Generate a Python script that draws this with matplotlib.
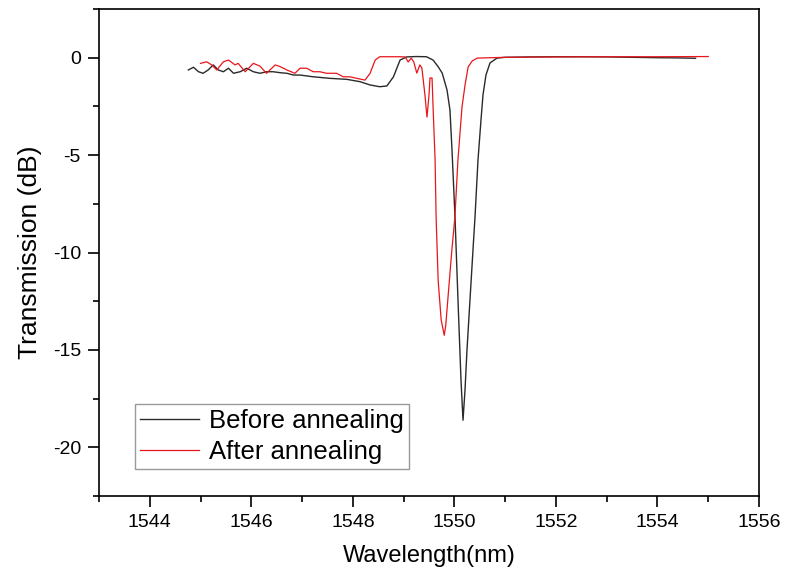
import matplotlib
matplotlib.use("Agg")
import matplotlib.pyplot as plt
from matplotlib.ticker import MultipleLocator

plt.rcParams['font.family'] = ['Liberation Sans', 'DejaVu Sans']
plt.rcParams['axes.unicode_minus'] = False

# before annealing
wl_before = [1544.76, 1544.86, 1544.96, 1545.05, 1545.15, 1545.25, 1545.35, 1545.45, 1545.55,
             1545.65, 1545.78, 1545.91, 1546.04, 1546.17, 1546.30, 1546.43, 1546.57, 1546.70,
             1546.83, 1546.96, 1547.22, 1547.55, 1547.88, 1548.14, 1548.34, 1548.53, 1548.67,
             1548.80, 1548.93, 1549.06, 1549.25, 1549.45, 1549.58, 1549.68, 1549.76, 1549.855,
             1549.913, 1549.953, 1550.012, 1550.071, 1550.130, 1550.170, 1550.209, 1550.248,
             1550.307, 1550.366, 1550.406, 1550.465, 1550.524, 1550.563, 1550.622, 1550.701,
             1550.839, 1551.0, 1551.5, 1552.0, 1552.5, 1553.0, 1553.5, 1554.0, 1554.4, 1554.75]
db_before = [-0.63, -0.49, -0.72, -0.80, -0.63, -0.37, -0.63, -0.72, -0.54,
             -0.80, -0.72, -0.54, -0.72, -0.80, -0.72, -0.72, -0.77, -0.80,
             -0.89, -0.89, -0.98, -1.06, -1.11, -1.23, -1.40, -1.49, -1.45,
             -0.98, -0.12, 0.04, 0.06, 0.05, -0.12, -0.46, -0.79, -1.66,
             -2.69, -4.74, -8.18, -12.44, -16.55, -18.61, -17.07, -15.01,
             -12.44, -9.88, -8.18, -5.25, -3.20, -1.92, -0.89, -0.27,
             -0.02, 0.02, 0.04, 0.05, 0.05, 0.04, 0.02, 0.0, -0.01, -0.03]

# after annealing
wl_after = [1545.00, 1545.12, 1545.22, 1545.32, 1545.45, 1545.55, 1545.68, 1545.74, 1545.88,
            1546.04, 1546.17, 1546.30, 1546.47, 1546.57, 1546.70, 1546.86, 1546.96, 1547.09,
            1547.22, 1547.35, 1547.48, 1547.68, 1547.81, 1547.94, 1548.08, 1548.24, 1548.34,
            1548.44, 1548.53, 1548.93, 1549.03, 1549.09, 1549.15, 1549.20, 1549.26, 1549.32,
            1549.36, 1549.42, 1549.46, 1549.50, 1549.52, 1549.56, 1549.58, 1549.62, 1549.64,
            1549.68, 1549.74, 1549.80, 1549.83, 1549.87, 1549.95, 1550.01, 1550.07, 1550.15,
            1550.21, 1550.27, 1550.35, 1550.45, 1551.0, 1552.0, 1553.0, 1554.0, 1555.0]
db_after = [-0.29, -0.21, -0.37, -0.63, -0.21, -0.12, -0.37, -0.29, -0.72,
            -0.29, -0.43, -0.80, -0.37, -0.46, -0.63, -0.80, -0.54, -0.54,
            -0.72, -0.72, -0.80, -0.80, -0.98, -0.98, -1.06, -1.15, -0.80,
            -0.12, 0.05, 0.05, 0.04, -0.22, -0.02, -0.22, -0.79, -0.37,
            -0.53, -1.92, -3.05, -1.92, -1.04, -1.04, -2.53, -5.25, -8.18,
            -11.42, -13.47, -14.25, -13.74, -12.44, -9.88, -8.18, -5.25, -2.53,
            -1.40, -0.48, -0.17, -0.02, 0.02, 0.04, 0.05, 0.05, 0.06]

fig = plt.figure(figsize=(7.85, 5.81), dpi=100)
ax = fig.add_axes([0.1261, 0.1463, 0.8408, 0.8382])

ax.plot(wl_before, db_before, color='#2a2a2a', lw=1.0, label='Before annealing')
ax.plot(wl_after, db_after, color='#e8161b', lw=0.9, label='After annealing')

ax.set_xlim(1543, 1556)
ax.set_ylim(-22.5, 2.5)
ax.xaxis.set_major_locator(MultipleLocator(2))
ax.xaxis.set_minor_locator(MultipleLocator(1))
ax.yaxis.set_major_locator(MultipleLocator(5))
ax.yaxis.set_minor_locator(MultipleLocator(2.5))

for s in ax.spines.values():
    s.set_linewidth(1.2)
ax.tick_params(which='major', direction='out', length=8, width=1.2, labelsize=14, pad=5)
ax.tick_params(which='minor', direction='out', length=4.5, width=1.2)
ax.tick_params(top=False, right=False, which='both')

ax.set_xlabel('Wavelength(nm)', fontsize=17, labelpad=10)
ax.set_ylabel('Transmission (dB)', fontsize=19, labelpad=8)

leg = ax.legend(loc='lower left', bbox_to_anchor=(0.0545, 0.0554), borderaxespad=0,
                fontsize=18.5, frameon=True, fancybox=False, edgecolor='#808080',
                handlelength=2.3, handletextpad=0.4, labelspacing=0.25, borderpad=0.2)
leg.get_frame().set_linewidth(1.0)

fig.savefig('out.png', dpi=100)
